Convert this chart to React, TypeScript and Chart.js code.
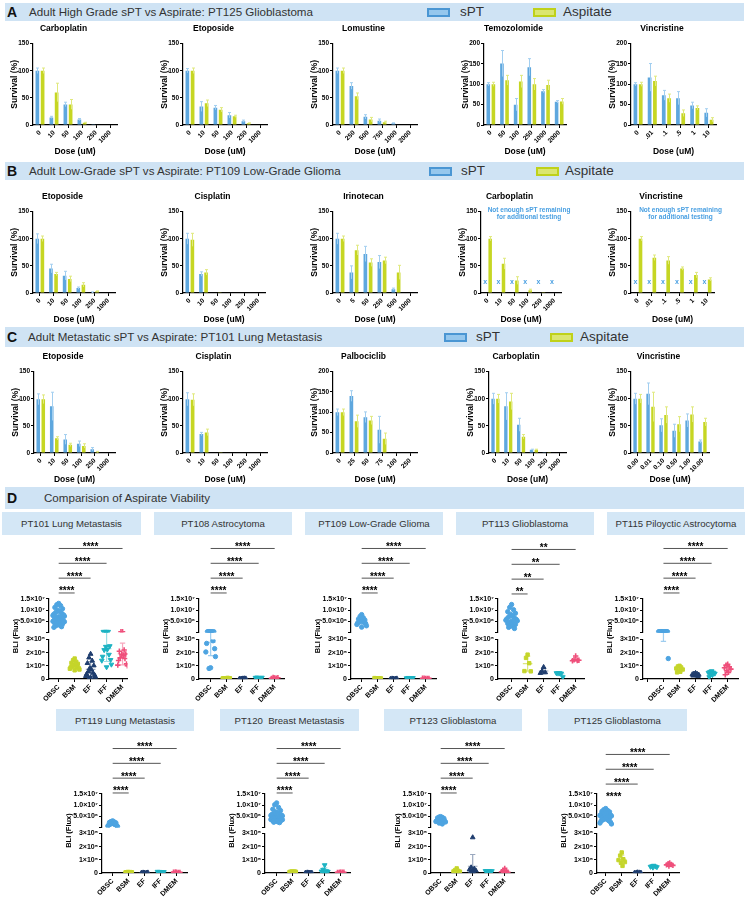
import React, { useEffect, useRef } from 'react';
import { Chart, registerables } from 'chart.js';

Chart.register(...registerables);

const FONT = '"Liberation Sans", Arial, Helvetica, sans-serif';
Chart.defaults.font.family = FONT;

// ================= Section A: PT125 Glioblastoma =================
const aStdDoses = ['0', '10', '50', '100', '250', '1000'];
const aLomuDoses = ['0', '250', '500', '750', '1000', '2000'];
const aTemoDoses = ['0', '50', '100', '250', '1000', '2000'];
const aVincDoses = ['0', '.01', '.1', '.5', '1', '10'];

const aCarboSpt = [100, 14, 38, 10, 0.5, 0];
const aCarboSptErr = [5, 2, 4, 2, 0, 0];
const aCarboAsp = [100, 60, 38, 4, 1, 0];
const aCarboAspErr = [5, 17, 9, 1, 0, 0];

const aEtoSpt = [100, 34, 32, 18, 7, 1];
const aEtoSptErr = [4, 9, 4, 5, 2, 0];
const aEtoAsp = [100, 40, 28, 16, 3, 1];
const aEtoAspErr = [5, 6, 4, 2, 1, 0];

const aLomuSpt = [100, 72, 15, 8, 3, 1];
const aLomuSptErr = [5, 6, 4, 3, 1, 0];
const aLomuAsp = [100, 53, 10, 5, 1, 1];
const aLomuAspErr = [5, 6, 4, 2, 0, 0];

const aTemoSpt = [100, 151, 50, 142, 83, 57];
const aTemoSptErr = [4, 32, 15, 21, 4, 3];
const aTemoAsp = [100, 110, 107, 100, 98, 58];
const aTemoAspErr = [5, 12, 15, 14, 12, 7];

const aVincSpt = [100, 117, 73, 66, 48, 30];
const aVincSptErr = [4, 34, 12, 16, 8, 10];
const aVincAsp = [100, 108, 66, 29, 42, 13];
const aVincAspErr = [5, 12, 10, 8, 5, 5];

// ================= Section B: PT109 Low-Grade Glioma =================
const bStdDoses = ['0', '10', '50', '100', '250', '1000'];
const bIrinoDoses = ['0', '5', '50', '250', '500', '1000'];
const bVincDoses = ['0', '.01', '.1', '.5', '1', '10'];

const bEtoSpt = [100, 45, 32, 9, 1, 0];
const bEtoSptErr = [9, 8, 8, 2, 1, 0];
const bEtoAsp = [100, 35, 26, 15, 3, 1];
const bEtoAspErr = [5, 3, 5, 4, 1, 0];

const bCisSpt = [100, 35, 0, 0, 0, 0];
const bCisSptErr = [10, 4, 0, 0, 0, 0];
const bCisAsp = [98, 38, 0.5, 0, 0, 0];
const bCisAspErr = [12, 5, 0, 0, 0, 0];

const bIrinoSpt = [100, 38, 72, 57, 7, 0];
const bIrinoSptErr = [10, 12, 14, 12, 2, 0];
const bIrinoAsp = [100, 79, 56, 60, 38, 1];
const bIrinoAspErr = [5, 9, 7, 6, 13, 0];

const bCarboSpt = [null, null, null, null, null, null];
const bCarboSptErr = [0, 0, 0, 0, 0, 0];
const bCarboAsp = [100, 54, 23, 5, 0.5, 0];
const bCarboAspErr = [4, 10, 7, 2, 0, 0];

const bVincSpt = [null, null, null, null, null, null];
const bVincSptErr = [0, 0, 0, 0, 0, 0];
const bVincAsp = [100, 65, 60, 45, 33, 25];
const bVincAspErr = [4, 5, 7, 3, 5, 3];

const missingNote = ['Not enough sPT remaining', 'for additional testing'];
const MISSING_MARK = 20;

// ================= Section C: PT101 Lung Metastasis =================
const cStdDoses = ['0', '10', '50', '100', '250', '1000'];
const cPalboDoses = ['0', '25', '50', '75', '100', '250'];
const cVincDoses = ['0.00', '0.01', '0.10', '0.50', '1.00', '10.00'];

const cEtoSpt = [99, 86, 25, 17, 7, 1];
const cEtoSptErr = [10, 26, 9, 5, 3, 0];
const cEtoAsp = [99, 27, 15, 13, 2, 1];
const cEtoAspErr = [8, 3, 3, 4, 1, 0];

const cCisSpt = [99, 35, 0, 0, 0, 0];
const cCisSptErr = [12, 3, 0, 0, 0, 0];
const cCisAsp = [98, 38, 0.5, 0, 0, 0];
const cCisAspErr = [11, 6, 0, 0, 0, 0];

const cPalboSpt = [100, 140, 88, 57, 0, 0];
const cPalboSptErr = [8, 13, 13, 33, 0, 0];
const cPalboAsp = [100, 78, 80, 35, 0, 0];
const cPalboAspErr = [8, 15, 10, 14, 0, 0];

const cCarboSpt = [100, 86, 52, 6, 0.5, 0];
const cCarboSptErr = [10, 25, 12, 1, 0, 0];
const cCarboAsp = [100, 95, 30, 6, 0.5, 0];
const cCarboAspErr = [8, 15, 4, 1, 0, 0];

const cVincSpt = [100, 109, 51, 41, 60, 21];
const cVincSptErr = [10, 20, 12, 12, 12, 3];
const cVincAsp = [100, 85, 70, 53, 71, 57];
const cVincAspErr = [8, 27, 15, 14, 14, 7];

// ================= Section D: aspirate viability (BLI flux) =================
const GROUPS = ['OBSC', 'BSM', 'EF', 'IFF', 'DMEM'];
const TOP_TICKS = ['', '5.0×10⁶', '1.0×10⁷', '1.5×10⁷'];
const BOT_TICKS = ['0', '1×10⁵', '2×10⁵', '3×10⁵'];

const pt101Obsc = [13.0e6, 12.4e6, 12.0e6, 11.2e6, 10.6e6, 10.0e6, 9.5e6, 9.0e6, 8.6e6, 8.2e6, 7.9e6, 7.6e6, 7.3e6, 7.0e6, 6.8e6, 6.6e6, 6.4e6, 6.2e6, 6.0e6, 5.8e6, 5.6e6, 5.5e6, 5.3e6, 5.1e6, 5.0e6, 4.8e6, 4.6e6, 4.4e6, 4.2e6, 4.0e6, 3.8e6, 3.6e6, 3.3e6, 3.0e6, 2.6e6, 2.3e6];
const pt101Bsm = [1.55e5, 1.42e5, 1.3e5, 1.22e5, 1.15e5, 1.08e5, 1.02e5, 0.97e5, 0.92e5, 0.88e5, 0.83e5, 0.78e5, 0.72e5, 0.66e5];
const pt101Ef = [1.9e5, 1.62e5, 1.38e5, 1.2e5, 1.02e5, 0.82e5, 0.7e5, 0.56e5, 0.46e5, 0.37e5, 0.3e5, 0.22e5, 0.16e5, 0.1e5, 0.05e5];
const pt101Iff = [3.6e5, 3.6e5, 3.6e5, 3.55e5, 2.5e5, 2.45e5, 2.25e5, 2.2e5, 1.85e5, 1.7e5, 1.45e5, 1.4e5, 1.1e5, 0.9e5];
const pt101Dmem = [3.55e5, 3.55e5, 2.2e5, 2.1e5, 1.9e5, 1.85e5, 1.8e5, 1.6e5, 1.55e5, 1.4e5, 1.15e5, 1.05e5, 1.0e5];
const pt101Sig = ['****', '****', '****', '****'];

const pt108Obsc = [3.6e5, 3.55e5, 3.5e5, 3.6e5, 3.5e5, 3.55e5, 3.6e5, 3.5e5, 2.9e5, 2.7e5, 2.3e5, 2.05e5, 1.7e5, 0.85e5, 0.8e5];
const pt108Bsm = [6e3, 5e3, 7e3, 4e3, 6e3, 5e3, 8e3, 5e3, 6e3, 4e3];
const pt108Ef = [3e3, 2e3, 4e3, 2e3, 3e3, 1e3, 2e3];
const pt108Iff = [9e3, 1.2e4, 8e3, 1.0e4, 1.1e4, 7e3, 9e3];
const pt108Dmem = [8e3, 1.2e4, 6e3, 5e3, 9e3, 7e3];
const pt108Sig = ['****', '****', '****', '****'];

const pt109Obsc = [8.0e6, 7.2e6, 6.6e6, 6.0e6, 5.6e6, 5.3e6, 5.0e6, 4.8e6, 4.6e6, 4.3e6, 4.0e6, 3.6e6, 3.0e6, 2.4e6];
const pt109Bsm = [5e3, 6e3, 4e3, 7e3, 5e3, 6e3, 5e3];
const pt109Ef = [2e3, 3e3, 2e3, 1e3, 3e3, 2e3];
const pt109Iff = [7e3, 9e3, 8e3, 6e3, 8e3, 7e3];
const pt109Dmem = [5e3, 6e3, 4e3, 6e3, 5e3];
const pt109Sig = ['****', '****', '****', '****'];

const pt113Obsc = [12.5e6, 11.2e6, 10.2e6, 9.3e6, 8.6e6, 8.0e6, 7.4e6, 7.0e6, 6.5e6, 6.1e6, 5.8e6, 5.5e6, 5.2e6, 4.9e6, 4.6e6, 4.3e6, 4.0e6, 3.6e6, 3.2e6, 2.8e6, 2.3e6, 1.8e6];
const pt113Bsm = [1.85e5, 1.6e5, 1.2e5, 0.6e5, 0.58e5];
const pt113Ef = [0.9e5, 0.58e5, 0.5e5, 0.45e5];
const pt113Iff = [0.45e5, 0.45e5, 0.42e5, 0.45e5, 0.15e5];
const pt113Dmem = [1.75e5, 1.45e5, 1.4e5, 1.38e5, 1.42e5];
const pt113Sig = ['**', '**', '**', '**'];

const pt115Obsc = [3.7e5, 3.65e5, 3.6e5, 3.6e5, 3.55e5, 3.55e5, 3.6e5, 3.5e5, 3.6e5, 3.55e5, 3.5e5, 3.6e5, 1.55e5];
const pt115Bsm = [1.0e5, 0.95e5, 0.88e5, 0.8e5, 0.72e5, 0.62e5, 0.55e5, 0.5e5];
const pt115Ef = [0.45e5, 0.4e5, 0.38e5, 0.35e5, 0.32e5, 0.3e5, 0.28e5, 0.25e5, 0.22e5];
const pt115Iff = [0.6e5, 0.55e5, 0.5e5, 0.48e5, 0.42e5, 0.35e5, 0.3e5, 0.15e5];
const pt115Dmem = [1.12e5, 1.05e5, 0.92e5, 0.85e5, 0.75e5, 0.62e5, 0.5e5, 0.32e5];
const pt115Sig = ['****', '****', '****', '****'];

const pt119Obsc = [3.0e6, 2.7e6, 2.5e6, 2.3e6, 2.1e6, 1.9e6, 1.7e6, 1.5e6, 1.3e6, 1.1e6, 0.9e6, 0.7e6, 0.5e6];
const pt119Bsm = [6e3, 5e3, 7e3, 4e3, 6e3, 8e3, 5e3, 6e3];
const pt119Ef = [2e3, 3e3, 1e3, 2e3, 3e3, 2e3];
const pt119Iff = [8e3, 9e3, 7e3, 1e4, 8e3, 9e3];
const pt119Dmem = [5e3, 6e3, 4e3, 7e3, 5e3, 6e3];
const pt119Sig = ['****', '****', '****', '****'];

const pt120Obsc = [11.0e6, 10.2e6, 9.0e6, 8.2e6, 7.6e6, 7.0e6, 6.6e6, 6.3e6, 6.0e6, 5.8e6, 5.6e6, 5.4e6, 5.2e6, 5.0e6, 4.9e6, 4.8e6, 4.6e6, 4.5e6, 4.4e6, 4.2e6, 4.1e6, 4.0e6, 3.9e6, 3.8e6, 3.6e6, 3.5e6, 3.4e6, 3.3e6, 3.2e6, 3.0e6, 2.9e6, 2.8e6, 2.6e6, 2.4e6, 2.2e6];
const pt120Bsm = [9e3, 8e3, 1.0e4, 7e3, 9e3, 1.1e4, 8e3, 9e3, 1e4];
const pt120Ef = [2e3, 3e3, 1e3, 2e3, 2e3, 3e3, 1e3];
const pt120Iff = [6.0e4, 2.5e4, 1.5e4, 1.2e4, 1.0e4, 8e3, 6e3];
const pt120Dmem = [6e3, 5e3, 7e3, 5e3, 6e3, 4e3];
const pt120Sig = ['****', '****', '****', '****'];

const pt123Obsc = [4.9e6, 4.7e6, 4.5e6, 4.3e6, 4.1e6, 3.9e6, 3.7e6, 3.5e6, 3.3e6, 3.1e6, 2.9e6, 2.7e6, 2.5e6, 2.3e6, 2.0e6, 1.6e6];
const pt123Bsm = [3.5e4, 2.2e4, 1.6e4, 1.2e4, 1.0e4, 7e3, 5e3, 3e3];
const pt123Ef = [2.7e5, 4.2e4, 3.2e4, 2.6e4, 1.8e4, 1.2e4, 6e3, 3e3];
const pt123Iff = [1.6e4, 1.5e4, 1.4e4, 1.6e4, 1.5e4, 1.3e4];
const pt123Dmem = [3.5e4, 1.8e4, 1.2e4, 9e3, 6e3, 3e3];
const pt123Sig = ['****', '****', '****', '****'];

const pt125Obsc = [8.5e6, 8.0e6, 7.6e6, 7.2e6, 7.0e6, 6.7e6, 6.4e6, 6.2e6, 6.0e6, 5.8e6, 5.6e6, 5.4e6, 5.2e6, 5.0e6, 4.8e6, 4.6e6, 4.4e6, 4.2e6, 4.0e6, 3.7e6, 3.4e6, 3.1e6, 2.8e6, 2.4e6, 2.0e6, 1.6e6];
const pt125Bsm = [1.56e5, 1.32e5, 1.05e5, 0.98e5, 0.83e5, 0.78e5, 0.54e5];
const pt125Ef = [4e3, 2e3, 3e3, 1e3, 2e3, 3e3];
const pt125Iff = [5.6e4, 5.2e4, 5.0e4, 4.8e4, 4.5e4, 4.2e4];
const pt125Dmem = [7.6e4, 7.0e4, 6.5e4, 6.2e4, 5.8e4, 5.2e4];
const pt125Sig = ['****', '****', '****', '****'];

// ================= styles =================
const BAR_BLUE = '#5ea7de';
const BAR_YEL = '#c6d623';
const ERR_BLUE = '#a3cff0';
const ERR_YEL = '#e0e97e';
const NOTE_BLUE = '#4aa0e2';
const HEADER_BG = '#cfe3f4';
const SUB_BG = '#d4e7f6';
const BREAK = 3e5;

const GROUP_STYLE = [
  { color: '#4ea4e1', light: 'rgba(78,164,225,0.55)', style: 'circle', r: 2.2, rot: 0, bw: 1 },
  { color: '#c5d52b', light: 'rgba(197,213,43,0.6)', style: 'rect', r: 2.4, rot: 0, bw: 1 },
  { color: '#1f3d6e', light: 'rgba(31,61,110,0.45)', style: 'triangle', r: 2.7, rot: 0, bw: 1 },
  { color: '#1db3c3', light: 'rgba(29,179,195,0.45)', style: 'triangle', r: 2.7, rot: 180, bw: 1 },
  { color: '#ef4f7b', light: 'rgba(239,79,123,0.5)', style: 'cross', r: 2.7, rot: 0, bw: 1.6 },
];

const JIT = [0, -1, 1, -2, 2, -0.5, 0.5, -1.5, 1.5, -2.5, 2.5, -3, 3];
function jitter(i: number, n: number) {
  const s = n > 20 ? 0.12 : 0.1;
  return JIT[i % JIT.length] * s;
}

type BarSpec = {
  title: string; labels: string[];
  spt: (number | null)[]; sptErr: number[]; asp: number[]; aspErr: number[];
  yMax: number; note?: string[]; axisX: number; axisEnd: number; titleY: number;
};

const ROW_A_Y = 29.3, ROW_B_Y = 196.7, ROW_C_Y = 356.7;

const BAR_PANELS: BarSpec[] = [
  { title: 'Carboplatin', labels: aStdDoses, spt: aCarboSpt, sptErr: aCarboSptErr, asp: aCarboAsp, aspErr: aCarboAspErr, yMax: 150, axisX: 33, axisEnd: 117, titleY: ROW_A_Y },
  { title: 'Etoposide', labels: aStdDoses, spt: aEtoSpt, sptErr: aEtoSptErr, asp: aEtoAsp, aspErr: aEtoAspErr, yMax: 150, axisX: 183, axisEnd: 267, titleY: ROW_A_Y },
  { title: 'Lomustine', labels: aLomuDoses, spt: aLomuSpt, sptErr: aLomuSptErr, asp: aLomuAsp, aspErr: aLomuAspErr, yMax: 150, axisX: 333, axisEnd: 417, titleY: ROW_A_Y },
  { title: 'Temozolomide', labels: aTemoDoses, spt: aTemoSpt, sptErr: aTemoSptErr, asp: aTemoAsp, aspErr: aTemoAspErr, yMax: 200, axisX: 484, axisEnd: 566, titleY: ROW_A_Y },
  { title: 'Vincristine', labels: aVincDoses, spt: aVincSpt, sptErr: aVincSptErr, asp: aVincAsp, aspErr: aVincAspErr, yMax: 200, axisX: 631, axisEnd: 716, titleY: ROW_A_Y },

  { title: 'Etoposide', labels: bStdDoses, spt: bEtoSpt, sptErr: bEtoSptErr, asp: bEtoAsp, aspErr: bEtoAspErr, yMax: 150, axisX: 33, axisEnd: 115, titleY: ROW_B_Y },
  { title: 'Cisplatin', labels: bStdDoses, spt: bCisSpt, sptErr: bCisSptErr, asp: bCisAsp, aspErr: bCisAspErr, yMax: 150, axisX: 183, axisEnd: 265, titleY: ROW_B_Y },
  { title: 'Irinotecan', labels: bIrinoDoses, spt: bIrinoSpt, sptErr: bIrinoSptErr, asp: bIrinoAsp, aspErr: bIrinoAspErr, yMax: 150, axisX: 333, axisEnd: 417, titleY: ROW_B_Y },
  { title: 'Carboplatin', labels: bStdDoses, spt: bCarboSpt, sptErr: bCarboSptErr, asp: bCarboAsp, aspErr: bCarboAspErr, yMax: 150, note: missingNote, axisX: 481, axisEnd: 561, titleY: ROW_B_Y },
  { title: 'Vincristine', labels: bVincDoses, spt: bVincSpt, sptErr: bVincSptErr, asp: bVincAsp, aspErr: bVincAspErr, yMax: 150, note: missingNote, axisX: 631, axisEnd: 714, titleY: ROW_B_Y },

  { title: 'Etoposide', labels: cStdDoses, spt: cEtoSpt, sptErr: cEtoSptErr, asp: cEtoAsp, aspErr: cEtoAspErr, yMax: 150, axisX: 34, axisEnd: 115, titleY: ROW_C_Y },
  { title: 'Cisplatin', labels: cStdDoses, spt: cCisSpt, sptErr: cCisSptErr, asp: cCisAsp, aspErr: cCisAspErr, yMax: 150, axisX: 183, axisEnd: 267, titleY: ROW_C_Y },
  { title: 'Palbociclib', labels: cPalboDoses, spt: cPalboSpt, sptErr: cPalboSptErr, asp: cPalboAsp, aspErr: cPalboAspErr, yMax: 200, axisX: 333, axisEnd: 417, titleY: ROW_C_Y },
  { title: 'Carboplatin', labels: cStdDoses, spt: cCarboSpt, sptErr: cCarboSptErr, asp: cCarboAsp, aspErr: cCarboAspErr, yMax: 150, axisX: 489, axisEnd: 566, titleY: ROW_C_Y },
  { title: 'Vincristine', labels: cVincDoses, spt: cVincSpt, sptErr: cVincSptErr, asp: cVincAsp, aspErr: cVincAspErr, yMax: 150, axisX: 631, axisEnd: 709, titleY: ROW_C_Y },
];

function BarPanel({ spec }: { spec: BarSpec }) {
  const ref = useRef<HTMLCanvasElement | null>(null);
  const YW = 23;
  const plotW = spec.axisEnd - spec.axisX;
  const cw = YW * 2 + plotW;
  const ch = 137;
  useEffect(() => {
    if (!ref.current) return;
    const errPlugin = {
      id: 'errbars',
      afterDatasetsDraw(chart: any) {
        const ctx = chart.ctx;
        const ys = chart.scales.y;
        const series = [
          { vals: spec.spt, errs: spec.sptErr, col: ERR_BLUE, di: 0 },
          { vals: spec.asp, errs: spec.aspErr, col: ERR_YEL, di: 1 },
        ];
        ctx.save();
        ctx.lineWidth = 1;
        for (const s of series) {
          const meta = chart.getDatasetMeta(s.di);
          s.vals.forEach((v: number | null, i: number) => {
            const e = s.errs[i];
            if (v == null || !e) return;
            const x = Math.round(meta.data[i].x) + 0.5;
            const yHi = ys.getPixelForValue(v + e);
            const yLo = ys.getPixelForValue(Math.max(0, v - e));
            ctx.strokeStyle = s.col;
            ctx.beginPath();
            ctx.moveTo(x, yLo);
            ctx.lineTo(x, yHi);
            ctx.moveTo(x - 1.5, yHi);
            ctx.lineTo(x + 1.5, yHi);
            ctx.stroke();
          });
        }
        if (spec.note) {
          const meta = chart.getDatasetMeta(0);
          ctx.fillStyle = NOTE_BLUE;
          ctx.textAlign = 'center';
          ctx.textBaseline = 'middle';
          ctx.font = `bold 7px ${FONT}`;
          spec.spt.forEach((v, i) => {
            if (v == null) ctx.fillText('x', meta.data[i].x, ys.getPixelForValue(MISSING_MARK));
          });
          const ca = chart.chartArea;
          const cx = (ca.left + ca.right) / 2 + 8;
          ctx.font = `bold 6.5px ${FONT}`;
          spec.note.forEach((line, j) => ctx.fillText(line, cx, ca.top - 1.5 + j * 7));
        }
        ctx.restore();
      },
    };
    const tickFont = { family: FONT, size: 6.5, weight: 'bold' as const };
    const titleFont = { family: FONT, size: 8.5, weight: 'bold' as const };
    const chart = new Chart(ref.current, {
      type: 'bar',
      data: {
        labels: spec.labels,
        datasets: [
          { label: 'sPT', data: spec.spt as any, backgroundColor: BAR_BLUE, borderWidth: 0, categoryPercentage: 0.75, barPercentage: 0.7 },
          { label: 'Aspitate', data: spec.asp, backgroundColor: BAR_YEL, borderWidth: 0, categoryPercentage: 0.75, barPercentage: 0.7 },
        ],
      },
      options: {
        responsive: false,
        animation: false,
        events: [],
        layout: { padding: { left: 0, right: YW, top: 0, bottom: 2 } },
        plugins: {
          legend: { display: false },
          tooltip: { enabled: false },
          title: { display: true, text: spec.title, color: '#000', font: titleFont, padding: { top: 2, bottom: 9.4 } },
        },
        scales: {
          x: {
            grid: { drawOnChartArea: false, offset: false, tickLength: 3, color: '#000', lineWidth: 1 },
            border: { color: '#000', width: 1.2 },
            ticks: { color: '#000', font: tickFont, minRotation: 45, maxRotation: 45, padding: 1, autoSkip: false },
            title: { display: true, text: 'Dose (uM)', color: '#000', font: titleFont, padding: { top: 0, bottom: 0 } },
            afterFit: (s: any) => { s.height = 32; },
          },
          y: {
            min: 0, max: spec.yMax,
            grid: { drawOnChartArea: false, tickLength: 3, color: '#000', lineWidth: 1 },
            border: { color: '#000', width: 1.2 },
            ticks: { stepSize: 50, color: '#000', font: tickFont, padding: 1, autoSkip: false },
            title: { display: true, text: 'Survival (%)', color: '#000', font: titleFont, padding: { top: 0, bottom: 0 } },
            afterFit: (s: any) => { s.width = YW; },
          },
        },
      } as any,
      plugins: [errPlugin],
    });
    return () => chart.destroy();
  }, []);
  return (
    <canvas
      ref={ref}
      width={cw}
      height={ch}
      style={{ position: 'absolute', left: spec.axisX - YW, top: Math.round(spec.titleY - 7.1), width: cw, height: ch }}
    />
  );
}

type DotSpec = {
  title: string; groups: number[][]; sig: string[];
  axisX: number; axisEnd: number; obscX: number; sigBase: number;
  box: [number, number]; row: 1 | 2;
};

const ROWS = {
  1: { canvasTop: 532, anno: 62, top: 34, gap: 7, bot: 40, hx: 26, boxTop: 512, boxH: 23 },
  2: { canvasTop: 736, anno: 53, top: 34, gap: 6, bot: 40, hx: 24, boxTop: 709, boxH: 22 },
};

const DOT_PANELS: DotSpec[] = [
  { title: 'PT101 Lung Metastasis', groups: [pt101Obsc, pt101Bsm, pt101Ef, pt101Iff, pt101Dmem], sig: pt101Sig, axisX: 49, axisEnd: 130, obscX: 59, sigBase: 592, box: [2, 141], row: 1 },
  { title: 'PT108 Astrocytoma', groups: [pt108Obsc, pt108Bsm, pt108Ef, pt108Iff, pt108Dmem], sig: pt108Sig, axisX: 199, axisEnd: 287, obscX: 211, sigBase: 592, box: [154, 292], row: 1 },
  { title: 'PT109 Low-Grade Glioma', groups: [pt109Obsc, pt109Bsm, pt109Ef, pt109Iff, pt109Dmem], sig: pt109Sig, axisX: 351, axisEnd: 439, obscX: 362, sigBase: 592, box: [305, 443], row: 1 },
  { title: 'PT113 Glioblastoma', groups: [pt113Obsc, pt113Bsm, pt113Ef, pt113Iff, pt113Dmem], sig: pt113Sig, axisX: 498, axisEnd: 587, obscX: 512, sigBase: 593, box: [456, 594], row: 1 },
  { title: 'PT115 Piloyctic Astrocytoma', groups: [pt115Obsc, pt115Bsm, pt115Ef, pt115Iff, pt115Dmem], sig: pt115Sig, axisX: 643, axisEnd: 741, obscX: 664, sigBase: 592, box: [607, 745], row: 1 },
  { title: 'PT119 Lung Metastasis', groups: [pt119Obsc, pt119Bsm, pt119Ef, pt119Iff, pt119Dmem], sig: pt119Sig, axisX: 102, axisEnd: 190, obscX: 113, sigBase: 792, box: [56, 194], row: 2 },
  { title: 'PT120  Breast Metastasis', groups: [pt120Obsc, pt120Bsm, pt120Ef, pt120Iff, pt120Dmem], sig: pt120Sig, axisX: 265, axisEnd: 353, obscX: 277, sigBase: 792, box: [220, 359], row: 2 },
  { title: 'PT123 Glioblastoma', groups: [pt123Obsc, pt123Bsm, pt123Ef, pt123Iff, pt123Dmem], sig: pt123Sig, axisX: 431, axisEnd: 517, obscX: 441, sigBase: 792, box: [384, 522], row: 2 },
  { title: 'PT125 Glioblastoma', groups: [pt125Obsc, pt125Bsm, pt125Ef, pt125Iff, pt125Dmem], sig: pt125Sig, axisX: 597, axisEnd: 682, obscX: 606, sigBase: 798, box: [548, 687], row: 2 },
];

const CAT_PX = 16.5;
const SIG_PX = 15;

function DotPanel({ spec }: { spec: DotSpec }) {
  const ref = useRef<HTMLCanvasElement | null>(null);
  const R = ROWS[spec.row];
  const YW = 38, PADL = 2, PADR = 3, PADT = 4, PADB = 2;
  const cw = PADL + YW + (spec.axisEnd - spec.axisX) + PADR;
  const ch = PADT + R.anno + R.top + R.gap + R.bot + R.hx + PADB;
  const xMin = (spec.axisX - spec.obscX) / CAT_PX;
  const xMax = (spec.axisEnd - spec.obscX) / CAT_PX;
  const annoBottom = R.canvasTop + PADT + R.anno;
  const annoMin = 1 - (annoBottom - spec.sigBase) / SIG_PX;
  const annoMax = annoMin + R.anno / SIG_PX;
  useEffect(() => {
    if (!ref.current) return;
    const datasets: any[] = [];
    spec.sig.forEach((s, k) => {
      datasets.push({
        type: 'line', data: [{ x: 0, y: k + 1 }, { x: k + 1, y: k + 1 }], xAxisID: 'x', yAxisID: 'yAnno',
        borderColor: '#555', borderWidth: 1, pointRadius: 0, showLine: true, fill: false,
      });
    });
    spec.groups.forEach((vals, g) => {
      const st = GROUP_STYLE[g];
      const upper: any[] = [];
      const lower: any[] = [];
      vals.forEach((v, i) => {
        const pt = { x: g + jitter(i, vals.length), y: v };
        (v > BREAK ? upper : lower).push(pt);
      });
      const base = {
        type: 'scatter', showLine: false, pointStyle: st.style, pointRadius: st.r, pointRotation: st.rot,
        pointBackgroundColor: st.color, pointBorderColor: st.color, pointBorderWidth: st.bw,
        backgroundColor: st.color, borderColor: st.color, xAxisID: 'x',
      };
      datasets.push({ ...base, data: upper, yAxisID: 'yTop' });
      datasets.push({ ...base, data: lower, yAxisID: 'yBot' });
    });

    const statPlugin = {
      id: 'stats',
      beforeDatasetsDraw(chart: any) {
        const ctx = chart.ctx;
        const xs = chart.scales.x, yT = chart.scales.yTop, yB = chart.scales.yBot;
        const pix = (v: number) => (v > BREAK ? yT.getPixelForValue(v) : yB.getPixelForValue(Math.max(0, v)));
        ctx.save();
        spec.groups.forEach((vals, g) => {
          const n = vals.length;
          const mean = vals.reduce((a, b) => a + b, 0) / n;
          const sd = Math.sqrt(vals.reduce((a, b) => a + (b - mean) * (b - mean), 0) / (n - 1));
          const xc = xs.getPixelForValue(g);
          const hw = xs.getPixelForValue(g + 0.3) - xc;
          const cap = hw * 0.55;
          const yHi = pix(mean + sd), yLo = pix(mean - sd), yM = pix(mean);
          ctx.strokeStyle = GROUP_STYLE[g].light;
          ctx.lineWidth = 1.2;
          ctx.beginPath();
          ctx.moveTo(xc, yHi); ctx.lineTo(xc, yLo);
          ctx.moveTo(xc - cap, yHi); ctx.lineTo(xc + cap, yHi);
          ctx.moveTo(xc - cap, yLo); ctx.lineTo(xc + cap, yLo);
          ctx.moveTo(xc - hw, yM); ctx.lineTo(xc + hw, yM);
          ctx.stroke();
        });
        ctx.restore();
      },
      afterDatasetsDraw(chart: any) {
        const ctx = chart.ctx;
        const xs = chart.scales.x, ya = chart.scales.yAnno;
        ctx.save();
        ctx.fillStyle = '#000';
        ctx.font = `bold 10px ${FONT}`;
        ctx.textAlign = 'center';
        ctx.textBaseline = 'alphabetic';
        spec.sig.forEach((s, k) => {
          const x0 = xs.getPixelForValue(0), x1 = xs.getPixelForValue(k + 1);
          ctx.fillText(s, (x0 + x1) / 2, ya.getPixelForValue(k + 1) + 1.5);
        });
        ctx.restore();
      },
    };

    const tickFont = { family: FONT, size: 7, weight: 'bold' as const };
    const fitY = (s: any) => { s.width = YW; };
    const chart = new Chart(ref.current, {
      type: 'scatter',
      data: { datasets },
      options: {
        responsive: false,
        animation: false,
        events: [],
        layout: { padding: { left: PADL, right: PADR, top: PADT, bottom: PADB } },
        plugins: { legend: { display: false }, tooltip: { enabled: false }, title: { display: false } },
        scales: {
          x: {
            type: 'linear', min: xMin, max: xMax,
            grid: { drawOnChartArea: false, tickLength: 3, color: '#000', lineWidth: 1 },
            border: { color: '#000', width: 1.2 },
            ticks: {
              stepSize: 1, includeBounds: false, autoSkip: false, minRotation: 45, maxRotation: 45, padding: 1,
              color: '#000', font: tickFont, callback: (v: any) => GROUPS[v] ?? '',
            },
            afterFit: (s: any) => { s.height = R.hx; },
          },
          yAnno: {
            type: 'linear', display: false, position: 'left', stack: 'bli', stackWeight: R.anno, weight: 4,
            min: annoMin, max: annoMax, afterFit: fitY,
          },
          yTop: {
            type: 'linear', position: 'left', stack: 'bli', stackWeight: R.top, weight: 3,
            min: 0, max: 1.5e7,
            grid: { drawOnChartArea: false, tickLength: 3, color: '#000', lineWidth: 1 },
            border: { color: '#000', width: 1.2 },
            ticks: { stepSize: 5e6, autoSkip: false, padding: 1, color: '#000', font: tickFont, callback: (_v: any, i: number) => TOP_TICKS[i] },
            afterFit: fitY,
          },
          yGap: {
            type: 'linear', position: 'left', stack: 'bli', stackWeight: R.gap, weight: 2,
            min: 0, max: 1,
            grid: { display: false }, border: { display: false }, ticks: { display: false },
            title: { display: true, text: 'BLI (Flux)', color: '#000', font: { family: FONT, size: 7.5, weight: 'bold' }, padding: { top: 0, bottom: 0 } },
            afterFit: fitY,
          },
          yBot: {
            type: 'linear', position: 'left', stack: 'bli', stackWeight: R.bot, weight: 1,
            min: 0, max: 3e5,
            grid: { drawOnChartArea: false, tickLength: 3, color: '#000', lineWidth: 1 },
            border: { color: '#000', width: 1.2 },
            ticks: { stepSize: 1e5, autoSkip: false, padding: 1, color: '#000', font: tickFont, callback: (_v: any, i: number) => BOT_TICKS[i] },
            afterFit: fitY,
          },
        },
      } as any,
      plugins: [statPlugin],
    });
    return () => chart.destroy();
  }, []);
  return (
    <>
      <div
        style={{
          position: 'absolute', left: spec.box[0], top: R.boxTop, width: spec.box[1] - spec.box[0], height: R.boxH,
          background: SUB_BG, display: 'flex', alignItems: 'center', justifyContent: 'center',
          fontSize: 9.6, color: '#333', whiteSpace: 'pre',
        }}
      >
        {spec.title}
      </div>
      <canvas
        ref={ref}
        width={cw}
        height={ch}
        style={{ position: 'absolute', left: spec.axisX - YW - PADL, top: R.canvasTop, width: cw, height: ch }}
      />
    </>
  );
}

type HeaderSpec = {
  top: number; height: number; letter: string; text: string; textLeft: number;
  legend?: [number, number, number, number];
};

const HEADERS: HeaderSpec[] = [
  { top: 3, height: 18, letter: 'A', text: 'Adult High Grade sPT vs Aspirate: PT125 Glioblastoma', textLeft: 29, legend: [427, 460, 533, 563] },
  { top: 162, height: 18, letter: 'B', text: 'Adult Low-Grade sPT vs Aspirate: PT109 Low-Grade Glioma', textLeft: 29, legend: [429, 461, 536, 565] },
  { top: 327, height: 20, letter: 'C', text: 'Adult Metastatic sPT vs Aspirate: PT101 Lung Metastasis', textLeft: 28, legend: [444, 476, 550, 580] },
  { top: 487, height: 22, letter: 'D', text: 'Comparision of Aspirate Viability', textLeft: 44 },
];

function Header({ h }: { h: HeaderSpec }) {
  const L = 5;
  const swatch = (x: number, border: string, fill: string) => (
    <div style={{
      position: 'absolute', left: x - L, top: (h.height - 9) / 2, width: 23, height: 9, boxSizing: 'border-box',
      border: `2px solid ${border}`, background: fill,
    }} />
  );
  const label = (x: number, t: string) => (
    <div style={{ position: 'absolute', left: x - L, top: 0, height: h.height, lineHeight: `${h.height}px`, fontSize: 13.5, color: '#333' }}>{t}</div>
  );
  return (
    <div style={{ position: 'absolute', left: L, top: h.top, width: 739, height: h.height, background: HEADER_BG }}>
      <div style={{ position: 'absolute', left: 7 - L, top: 0, height: h.height, lineHeight: `${h.height}px`, fontSize: 14, fontWeight: 'bold', color: '#111' }}>{h.letter}</div>
      <div style={{ position: 'absolute', left: h.textLeft - L, top: 0, height: h.height, lineHeight: `${h.height}px`, fontSize: 11.6, color: '#333', whiteSpace: 'nowrap' }}>{h.text}</div>
      {h.legend && (
        <>
          {swatch(h.legend[0], '#4a96d3', '#95c7ed')}
          {label(h.legend[1], 'sPT')}
          {swatch(h.legend[2], '#bfd11a', '#dbe670')}
          {label(h.legend[3], 'Aspitate')}
        </>
      )}
    </div>
  );
}

export default function App() {
  return (
    <div style={{ position: 'fixed', left: 0, top: 0, width: 748, height: 900, background: '#fff', overflow: 'hidden', fontFamily: FONT }}>
      {HEADERS.map((h, i) => <Header key={'h' + i} h={h} />)}
      {BAR_PANELS.map((s, i) => <BarPanel key={'b' + i} spec={s} />)}
      {DOT_PANELS.map((s, i) => <DotPanel key={'d' + i} spec={s} />)}
    </div>
  );
}
